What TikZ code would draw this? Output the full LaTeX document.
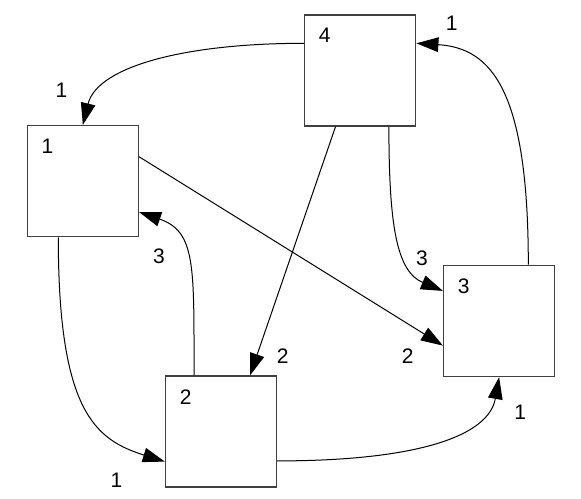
\documentclass[tikz,border=0pt]{standalone}
\usepackage{fontspec}
\setmainfont{Liberation Sans}
\usetikzlibrary{arrows.meta, positioning}
\definecolor{frame}{RGB}{64,64,64}

\begin{document}
\begin{tikzpicture}[
  state/.style={rectangle, draw=frame, line width=0.7pt, fill=white,
    minimum size=55.5pt, inner sep=0pt},
  num/.style={anchor=center, xshift=10.4pt, yshift=-10.7pt, font=\fontsize{10.5pt}{12pt}\selectfont},
  elab/.style={font=\fontsize{10.5pt}{12pt}\selectfont, inner sep=0pt},
  arc/.style={-{Triangle[length=11pt, width=7.3pt]}, line width=0.5pt}
]
\useasboundingbox (0,0) rectangle (290.5pt,-249pt);
\node[state, label={[num]north west:1}] (n1) at (41.4pt,-90.6pt) {};
\node[state, label={[num]north west:4}, right=82.5pt of n1, yshift=55.35pt] (n4) {};
\node[state, label={[num]north west:2}, below=69pt of n1, xshift=69.1pt] (n2) {};
\node[state, label={[num]north west:3}, right=82.85pt of n2, yshift=55.35pt] (n3) {};

\draw[arc] ([yshift=13.6pt]n4.west) .. controls +(-60pt,0) and +(7.25pt,29.1pt) .. (n1.north)
  node[elab, xshift=-10.65pt, yshift=17.5pt] (w41) {1};
\draw[arc] ([xshift=-12.35pt]n4.south) -- ([xshift=14.5pt]n2.north)
  node[elab, xshift=16.35pt, yshift=9.85pt] (w42) {2};
\draw[arc] ([xshift=14.35pt]n4.south) .. controls +(0,-50pt) and +(-23pt,9.65pt) .. ([yshift=15pt]n3.west)
  node[elab, xshift=-10.5pt, yshift=16.3pt] (w43) {3};
\draw[arc] ([xshift=14.6pt]n3.north) .. controls +(0,87pt) and +(37.65pt,-2.35pt) .. ([yshift=13.6pt]n4.east)
  node[elab, xshift=17.65pt, yshift=10pt] (w34) {1};
\draw[arc] ([yshift=12.25pt]n1.east) -- ([yshift=-12.35pt]n3.west)
  node[elab, xshift=-17.65pt, yshift=-5.5pt] (w13) {2};
\draw[arc] ([xshift=-12.25pt]n1.south) .. controls +(0,-86.65pt) and +(-35pt,11pt) .. ([yshift=-15pt]n2.west)
  node[elab, xshift=-24.2pt, yshift=-9.15pt] (w12) {1};
\draw[arc] ([xshift=-13.5pt]n2.north) .. controls +(0,55pt) and +(28.35pt,-9.75pt) .. ([yshift=-15.4pt]n1.east)
  node[elab, xshift=10pt, yshift=-22.35pt] (w21) {3};
\draw[arc] ([yshift=-14.65pt]n2.east) .. controls +(70pt,0) and +(-5.2pt,-29.5pt) .. (n3.south)
  node[elab, xshift=10.5pt, yshift=-17.65pt] (w23) {1};
\end{tikzpicture}
\end{document}
